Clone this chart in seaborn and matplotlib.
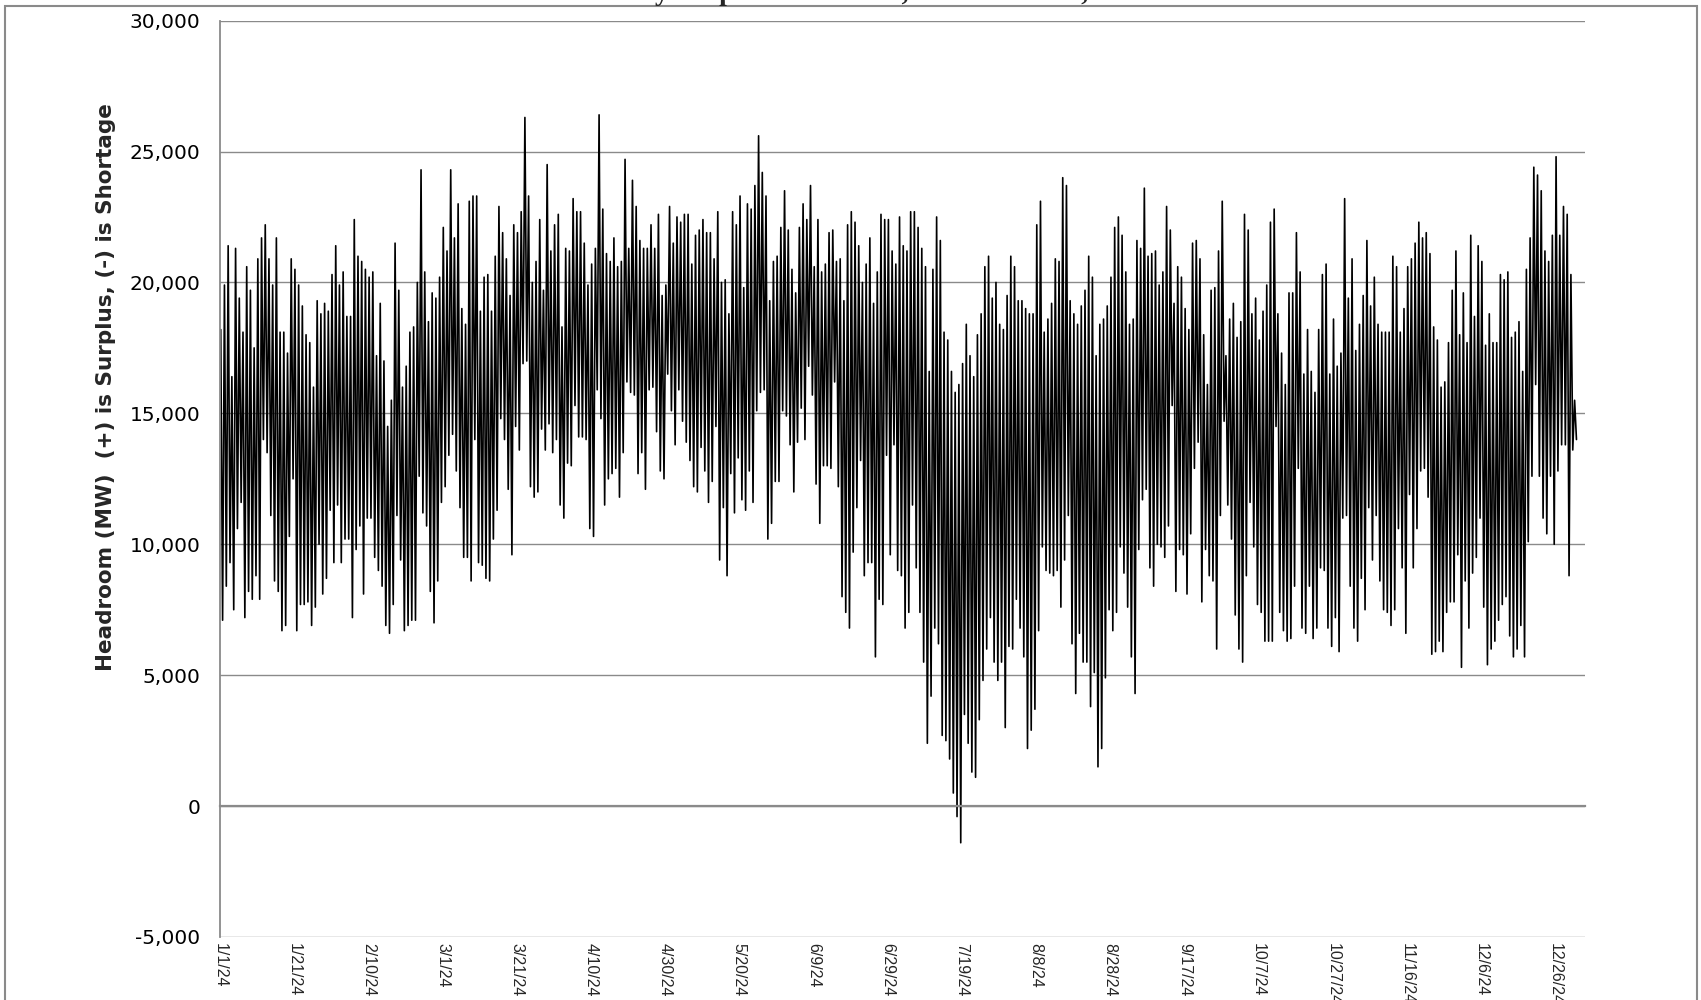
import matplotlib
matplotlib.use("Agg")
import matplotlib.pyplot as plt
import matplotlib.ticker as mticker
from matplotlib.patches import Rectangle
import seaborn as sns
import numpy as np
import pandas as pd

# daily high (overnight) and low (afternoon/evening) headroom, thousands of MW, 1/1/24 .. 12/31/24
daily_high = [
    18.2, 19.9, 21.4, 16.4, 21.3, 19.4, 18.1, 20.6, 19.7, 17.5,
    20.9, 21.7, 22.2, 20.9, 19.9, 21.7, 18.1, 18.1, 17.3, 20.9,
    20.5, 19.9, 19.1, 18.0, 17.7, 16.0, 19.3, 18.8, 19.2, 18.9,
    20.3, 21.4, 19.9, 20.4, 18.7, 18.7, 22.4, 21.0, 20.8, 20.5,
    20.2, 20.4, 17.2, 19.2, 17.0, 14.5, 15.5, 21.5, 19.7, 16.0,
    16.8, 18.1, 18.3, 20.0, 24.3, 20.4, 18.5, 19.6, 19.4, 20.2,
    22.1, 21.2, 24.3, 21.7, 23.0, 19.0, 18.4, 23.1, 23.3, 23.3,
    18.9, 20.2, 20.3, 18.9, 21.0, 22.9, 21.9, 20.9, 19.5, 22.2,
    21.9, 22.7, 26.3, 23.3, 20.0, 20.8, 22.4, 19.7, 24.5, 21.2,
    22.2, 22.6, 18.3, 21.3, 21.2, 23.2, 22.7, 22.7, 21.5, 19.9,
    20.7, 21.3, 26.4, 22.8, 21.1, 20.8, 21.7, 20.6, 20.8, 24.7,
    21.3, 23.9, 22.9, 21.6, 21.3, 21.3, 22.2, 21.3, 22.6, 19.5,
    19.9, 22.9, 21.5, 22.5, 22.3, 22.6, 22.6, 20.7, 21.8, 22.0,
    22.4, 21.9, 21.9, 20.9, 22.7, 20.0, 20.1, 18.8, 22.7, 22.2,
    23.3, 19.8, 23.0, 22.8, 23.7, 25.6, 24.2, 23.3, 19.3, 20.8,
    21.0, 22.1, 23.5, 22.0, 20.5, 19.6, 22.1, 23.0, 22.4, 23.7,
    20.6, 22.4, 20.4, 20.7, 21.9, 22.0, 20.8, 20.9, 19.3, 22.2,
    22.7, 22.3, 21.4, 20.0, 20.7, 21.7, 19.2, 20.4, 22.6, 22.4,
    22.4, 21.2, 20.7, 22.5, 21.4, 21.2, 22.7, 22.7, 22.1, 21.3,
    20.6, 16.6, 20.5, 22.5, 21.6, 18.1, 17.8, 16.6, 15.8, 16.1,
    16.9, 18.4, 17.2, 16.4, 18.0, 18.8, 20.6, 21.0, 19.4, 20.0,
    18.4, 18.2, 19.5, 21.0, 20.6, 19.3, 19.3, 19.0, 18.8, 18.8,
    22.2, 23.1, 18.1, 18.6, 19.2, 20.9, 20.8, 24.0, 23.7, 19.3,
    18.8, 18.4, 19.1, 19.7, 21.0, 20.2, 17.2, 18.4, 18.6, 19.1,
    20.2, 22.1, 22.5, 21.8, 20.4, 18.4, 18.6, 21.6, 21.3, 23.6,
    21.0, 21.1, 21.2, 19.9, 20.4, 22.9, 22.0, 19.2, 20.6, 20.2,
    19.0, 18.2, 21.5, 21.6, 20.9, 18.0, 16.1, 19.7, 19.8, 21.2,
    23.1, 17.2, 18.6, 19.2, 17.9, 18.5, 22.6, 22.0, 18.8, 19.4,
    17.8, 18.9, 19.9, 22.3, 22.8, 18.8, 17.3, 16.1, 19.6, 19.6,
    21.9, 20.4, 16.5, 18.2, 16.6, 15.8, 18.2, 20.3, 20.7, 16.5,
    18.6, 16.8, 17.3, 23.2, 19.4, 20.9, 17.4, 18.4, 19.5, 21.6,
    19.1, 20.2, 18.4, 18.1, 18.1, 18.1, 21.0, 20.6, 18.1, 19.0,
    20.6, 20.9, 21.5, 22.3, 21.7, 21.9, 21.1, 18.3, 17.8, 16.0,
    16.2, 17.7, 19.7, 21.2, 18.0, 19.6, 17.7, 21.8, 18.7, 21.4,
    20.8, 17.6, 18.8, 17.7, 17.7, 20.3, 20.1, 20.4, 17.9, 18.1,
    18.5, 16.6, 20.5, 21.7, 24.4, 24.1, 23.5, 21.2, 20.8, 21.8,
    24.8, 21.8, 22.9, 22.6, 20.3, 15.5,
]
daily_low = [
    7.1, 8.4, 9.3, 7.5, 10.6, 11.6, 7.2, 8.2, 7.9, 8.8,
    7.9, 14.0, 13.5, 11.1, 8.6, 8.2, 6.7, 6.9, 10.3, 12.5,
    6.7, 7.7, 7.7, 7.8, 6.9, 7.6, 10.0, 8.1, 8.7, 11.3,
    9.3, 11.5, 9.3, 10.2, 10.2, 7.2, 9.8, 10.7, 8.1, 11.0,
    11.0, 9.5, 9.0, 8.4, 6.9, 6.6, 7.7, 11.1, 9.4, 6.7,
    6.9, 7.1, 7.1, 12.6, 11.2, 10.7, 8.2, 7.0, 8.6, 11.6,
    12.2, 13.4, 14.2, 12.8, 11.4, 9.5, 9.5, 8.6, 14.0, 9.3,
    9.2, 8.7, 8.6, 10.2, 11.3, 14.8, 14.0, 12.1, 9.6, 14.5,
    13.6, 16.9, 17.0, 12.2, 11.8, 12.0, 14.4, 13.6, 14.6, 13.5,
    14.0, 11.5, 11.0, 13.1, 13.0, 15.3, 14.1, 14.1, 14.0, 10.6,
    10.3, 15.9, 14.8, 11.5, 12.5, 12.7, 12.9, 11.8, 13.5, 16.2,
    15.8, 15.7, 12.7, 13.5, 12.1, 15.9, 16.0, 14.3, 12.8, 12.5,
    16.5, 15.1, 13.8, 15.9, 14.7, 13.9, 13.2, 12.2, 12.0, 13.7,
    12.8, 11.6, 12.4, 14.5, 9.4, 11.4, 8.8, 12.7, 11.2, 13.3,
    11.7, 11.3, 12.8, 11.6, 15.1, 15.8, 15.9, 10.2, 10.8, 12.4,
    12.4, 15.1, 14.9, 13.8, 12.0, 13.9, 15.2, 14.0, 16.8, 15.7,
    12.3, 10.8, 13.0, 13.0, 12.9, 16.2, 12.2, 8.0, 7.4, 6.8,
    9.7, 11.4, 13.2, 8.8, 9.3, 9.3, 5.7, 7.9, 7.7, 13.4,
    9.6, 13.8, 9.0, 8.8, 6.8, 7.4, 11.5, 9.1, 7.4, 5.5,
    2.4, 4.2, 6.8, 6.2, 2.7, 2.5, 1.8, 0.5, -0.4, -1.4,
    3.5, 2.4, 1.3, 1.1, 3.3, 4.8, 6.0, 7.2, 5.5, 4.8,
    5.5, 3.0, 6.1, 6.0, 7.9, 6.8, 5.7, 2.2, 2.9, 3.7,
    6.7, 9.9, 9.0, 8.9, 8.8, 9.0, 7.6, 9.4, 11.1, 6.2,
    4.3, 6.6, 5.5, 5.5, 3.8, 5.1, 1.5, 2.2, 4.9, 7.5,
    6.7, 7.4, 9.9, 8.9, 7.6, 5.7, 4.3, 9.8, 11.7, 12.1,
    9.1, 8.4, 10.0, 9.9, 9.5, 10.7, 15.3, 8.2, 9.8, 9.6,
    8.1, 10.4, 12.9, 13.9, 7.8, 9.8, 8.8, 8.6, 6.0, 11.1,
    14.7, 11.5, 10.2, 7.3, 6.0, 5.5, 8.8, 11.6, 9.9, 7.7,
    7.4, 6.3, 6.3, 6.3, 14.5, 7.4, 6.7, 6.3, 6.4, 8.4,
    12.9, 6.8, 6.6, 8.4, 6.4, 6.8, 9.1, 9.0, 6.8, 6.1,
    7.2, 5.9, 11.0, 11.1, 8.4, 6.8, 6.3, 8.7, 7.5, 11.4,
    9.4, 11.1, 8.6, 7.5, 7.4, 6.9, 7.5, 10.6, 9.1, 6.6,
    11.9, 9.1, 10.6, 12.8, 12.9, 11.8, 5.8, 5.9, 6.3, 5.9,
    7.4, 7.8, 7.8, 9.6, 5.3, 8.6, 6.8, 8.9, 9.5, 11.0,
    7.6, 5.4, 6.0, 6.3, 7.1, 7.7, 8.0, 6.5, 5.7, 6.0,
    6.9, 5.7, 10.1, 12.6, 16.1, 12.6, 11.0, 10.4, 12.6, 10.0,
    12.8, 13.8, 13.8, 8.8, 13.6, 14.0,
]
tick_labels = ["1/1/24", "1/21/24", "2/10/24", "3/1/24", "3/21/24", "4/10/24",
               "4/30/24", "5/20/24", "6/9/24", "6/29/24", "7/19/24", "8/8/24",
               "8/28/24", "9/17/24", "10/7/24", "10/27/24", "11/16/24",
               "12/6/24", "12/26/24"]
y_ticks = [-5000, 0, 5000, 10000, 15000, 20000, 25000, 30000]

title = "Hourly Surplus Headroom, Base Scenario, 2024"
ylabel = "Headroom (MW)  (+) is Surplus, (-) is Shortage"

GRAY = "#8a8a8a"

# hourly line: high in the night, low in the evening of each day
days = np.arange(len(daily_high))
x = np.column_stack([days + 0.2, days + 0.7]).ravel()
y = np.column_stack([daily_high, daily_low]).ravel() * 1000
df = pd.DataFrame({"day": x, "headroom": y})

sns.set_style("white")
plt.rcParams["axes.unicode_minus"] = False
fig = plt.figure(figsize=(17.01, 10), dpi=100)
ax = fig.add_axes([220 / 1701, 0.063, 1365 / 1701, 0.9164])

sns.lineplot(data=df, x="day", y="headroom", ax=ax, color="black",
             linewidth=1.2, estimator=None, sort=False)
ax.set_xlabel("")
ax.set_ylabel("")
ax.set_xlim(0, 368)
ax.set_ylim(-5000, 30000)

# y axis
ax.set_yticks(y_ticks)
ax.yaxis.set_major_formatter(mticker.StrMethodFormatter("{x:,.0f}"))
ax.yaxis.set_minor_locator(mticker.MultipleLocator(1000))
ax.tick_params(axis="y", which="both", direction="in", length=5.5, width=1,
               color=GRAY, labelsize=14.5, pad=14, labelcolor="black")
ax.grid(axis="y", color=GRAY, linewidth=1.0)
ax.set_axisbelow(True)

# x axis line with ticks sits at zero
for s in ["top", "right"]:
    ax.spines[s].set_visible(False)
ax.spines["left"].set_color(GRAY)
ax.spines["left"].set_linewidth(1.3)
ax.spines["bottom"].set_position(("data", 0))
ax.spines["bottom"].set_color(GRAY)
ax.spines["bottom"].set_linewidth(1.6)
ax.set_xticks(range(0, 361, 20))
ax.xaxis.set_minor_locator(mticker.MultipleLocator(1))
ax.tick_params(axis="x", which="major", direction="in", length=5, width=1.2,
               color=GRAY, labelbottom=False)
ax.tick_params(axis="x", which="minor", direction="out", length=3.5, width=0.8,
               color=GRAY)

# date labels at the bottom of the plot
sec = ax.secondary_xaxis("bottom")
sec.set_ticks(range(0, 361, 20), labels=tick_labels)
sec.xaxis.set_minor_locator(mticker.NullLocator())
sec.spines["bottom"].set_visible(False)
sec.tick_params(length=0, pad=4, labelsize=11.5)
for lbl in sec.get_xticklabels():
    lbl.set_rotation(-90)
    lbl.set_ha("center")
    lbl.set_va("top")
    lbl.set_family(["Liberation Sans", "DejaVu Sans"])

fig.text(106 / 1701, 1 - 387 / 1000, ylabel, rotation=90, ha="center", va="center",
         fontsize=15.5, fontweight="bold", family="DejaVu Sans")
fig.text(867 / 1701, 1.0, title, ha="center", va="baseline", fontsize=20,
         fontweight="bold", family=["Liberation Serif", "DejaVu Serif"])

# chart area border
fig.add_artist(Rectangle((5 / 1701, -0.05), 1692 / 1701, 1.044, transform=fig.transFigure,
                         fill=False, edgecolor=GRAY, linewidth=1.5))

fig.savefig("out.png", dpi=100)
plt.close()
